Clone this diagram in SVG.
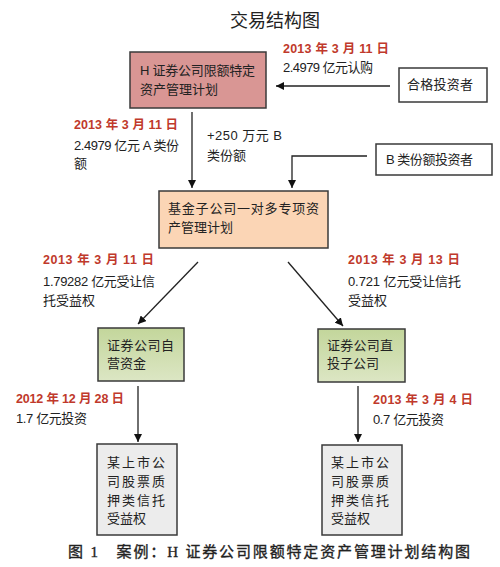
<svg xmlns="http://www.w3.org/2000/svg" width="500" height="567" viewBox="0 0 500 567">
<defs>
<marker id="ah" viewBox="0 0 10 10" refX="10" refY="5" markerWidth="8" markerHeight="8" markerUnits="userSpaceOnUse" orient="auto">
<path d="M0,0 L10,5 L0,10 z" fill="#111"/>
</marker>
<linearGradient id="gg" x1="0" y1="0" x2="0" y2="1">
<stop offset="0" stop-color="#C3D69B"/>
<stop offset="1" stop-color="#DCE6C4"/>
</linearGradient>
<style>
text{font-family:"Liberation Sans","Noto Sans CJK SC",sans-serif;fill:#222;}
.t{font-size:13px;}
.d{font-size:12.5px;font-weight:bold;fill:#C0392B;}
.box{stroke:#3a3a3a;stroke-width:1.5;}
.ln{stroke:#222;stroke-width:1.3;fill:none;}
.g{font-size:13px;letter-spacing:2px;}
</style>
</defs>
<rect width="500" height="567" fill="#fff"/>
<text x="275" y="27" font-size="18" text-anchor="middle">交易结构图</text>

<g id="connectors">
<line class="ln" x1="390" y1="86" x2="276" y2="86" marker-end="url(#ah)"/>
<line class="ln" x1="192" y1="112" x2="192" y2="188" marker-end="url(#ah)"/>
<polyline class="ln" points="367,156 292,156 292,188" marker-end="url(#ah)"/>
<line class="ln" x1="198" y1="262" x2="138" y2="324" marker-end="url(#ah)"/>
<line class="ln" x1="288" y1="262" x2="343" y2="326" marker-end="url(#ah)"/>
<line class="ln" x1="138" y1="386" x2="138" y2="442" marker-end="url(#ah)"/>
<line class="ln" x1="358" y1="386" x2="358" y2="442" marker-end="url(#ah)"/>
</g>

<g id="labels">
<text class="d" x="283" y="53" textLength="106">2013 年 3 月 11 日</text>
<text class="t" x="283" y="72" textLength="90">2.4979 亿元认购</text>
<text class="d" x="74" y="129" textLength="104">2013 年 3 月 11 日</text>
<text class="t" x="74" y="150" textLength="105">2.4979 亿元 A 类份</text>
<text class="t" x="74" y="168">额</text>
<text class="t" x="207" y="140" textLength="75">+250 万元 B</text>
<text class="t" x="207" y="160">类份额</text>
<text class="d" x="43" y="264" textLength="111">2013 年 3 月 11 日</text>
<text class="t" x="43" y="286" textLength="112">1.79282 亿元受让信</text>
<text class="t" x="43" y="305">托受益权</text>
<text class="d" x="348" y="264" textLength="112">2013 年 3 月 13 日</text>
<text class="t" x="348" y="286" textLength="113">0.721 亿元受让信托</text>
<text class="t" x="348" y="305">受益权</text>
<text class="d" x="16" y="403" textLength="108">2012 年 12 月 28 日</text>
<text class="t" x="16" y="423" textLength="71">1.7 亿元投资</text>
<text class="d" x="373" y="404" textLength="100">2013 年 3 月 4 日</text>
<text class="t" x="373" y="424" textLength="71">0.7 亿元投资</text>
</g>

<g id="node-h">
<rect class="box" x="130" y="52" width="136" height="56" fill="#D99694"/>
<text class="t" x="140" y="75" textLength="115">H 证券公司限额特定</text>
<text class="t" x="140" y="94">资产管理计划</text>
</g>

<g id="node-investor">
<rect class="box" x="399" y="68" width="88" height="34" fill="#fff"/>
<text class="t" x="407" y="89" textLength="66">合格投资者</text>
</g>

<g id="node-b-investor">
<rect class="box" x="376" y="144" width="116" height="31" fill="#fff"/>
<text class="t" x="386" y="164" textLength="87">B 类份额投资者</text>
</g>

<g id="node-fund">
<rect class="box" x="159" y="191" width="169" height="57" fill="#FBD5B5"/>
<text class="t" x="168" y="213" textLength="151">基金子公司一对多专项资</text>
<text class="t" x="168" y="232">产管理计划</text>
</g>

<g id="node-self">
<rect class="box" x="98" y="328" width="86" height="53" fill="url(#gg)"/>
<text class="t" x="107" y="350" textLength="67">证券公司自</text>
<text class="t" x="107" y="368">营资金</text>
</g>

<g id="node-direct">
<rect class="box" x="318" y="329" width="87" height="53" fill="url(#gg)"/>
<text class="t" x="327" y="350" textLength="66">证券公司直</text>
<text class="t" x="327" y="368">投子公司</text>
</g>

<g id="node-trust-left">
<rect class="box" x="97" y="444" width="80" height="91" fill="#ECECEC"/>
<text class="g" x="107" y="467">某上市公</text>
<text class="g" x="107" y="486">司股票质</text>
<text class="g" x="107" y="505">押类信托</text>
<text class="t" x="107" y="523">受益权</text>
</g>

<g id="node-trust-right">
<rect class="box" x="322" y="445" width="80" height="90" fill="#ECECEC"/>
<text class="g" x="331" y="467">某上市公</text>
<text class="g" x="331" y="486">司股票质</text>
<text class="g" x="331" y="505">押类信托</text>
<text class="t" x="331" y="523">受益权</text>
</g>

<text x="68" y="557" font-size="15" textLength="402" style="font-family:'Liberation Serif','Noto Sans CJK SC',serif;stroke:#222;stroke-width:0.35">图 1　案例：H 证券公司限额特定资产管理计划结构图</text>
</svg>
